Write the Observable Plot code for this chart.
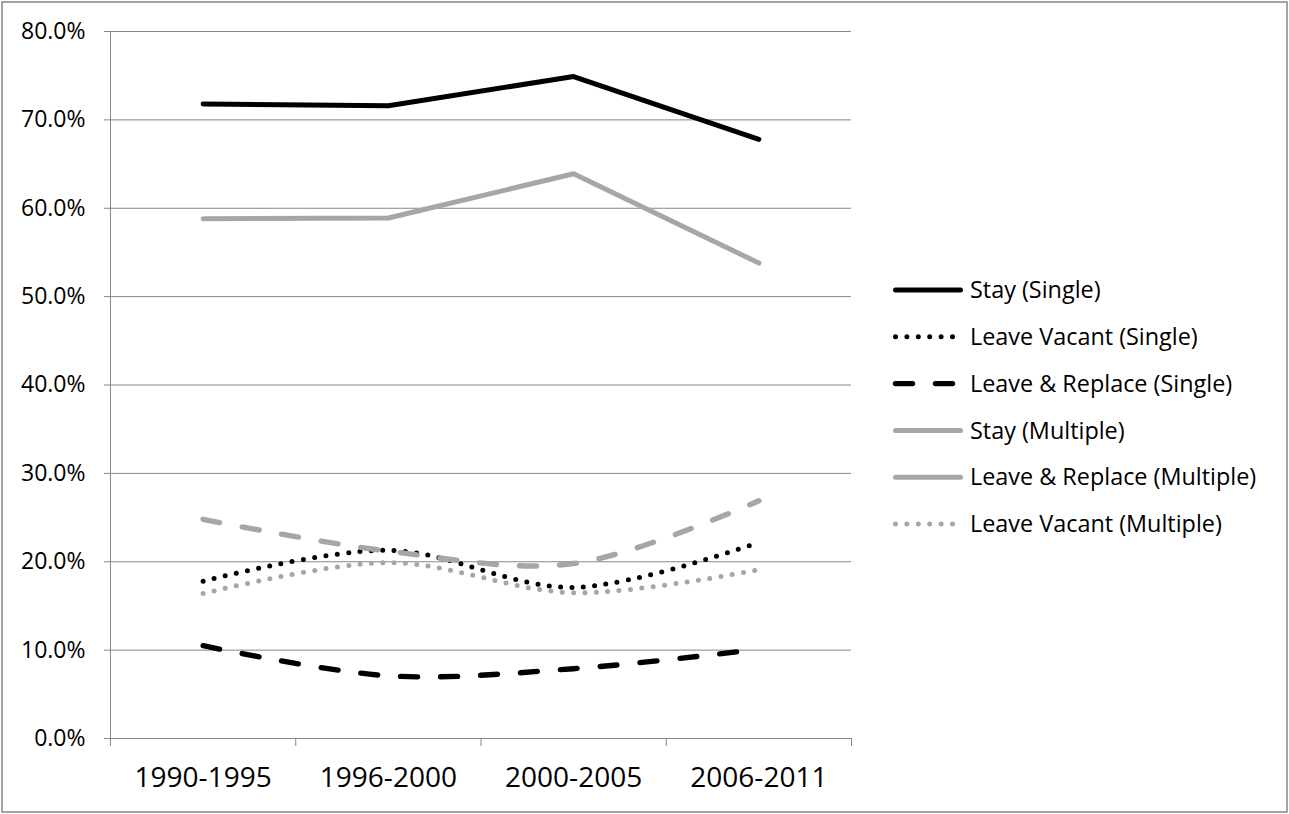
<!DOCTYPE html>
<html><head><meta charset="utf-8">
<script src="https://cdn.jsdelivr.net/npm/d3@7"></script>
<script src="https://cdn.jsdelivr.net/npm/@observablehq/plot@0.6"></script>
<style>
html,body{margin:0;padding:0;background:#fff;}
#chart{position:relative;width:1289px;height:814px;}
#chart svg [aria-label^="y-axis"] text{fill:#000;font-size:23px;}
</style></head><body><div id="chart"></div>
<script>
// ---- data ----
const periods = ["1990-1995", "1996-2000", "2000-2005", "2006-2011"];
const staySingle = [71.8, 71.6, 74.9, 67.8];
const vacantSingle = [17.8, 21.3, 17.1, 22.2];
const replaceSingle = [10.5, 7.1, 7.9, 10.1];
const stayMultiple = [58.8, 58.9, 63.9, 53.8];
const replaceMultiple = [24.8, 21.2, 19.8, 26.9];
const vacantMultiple = [16.4, 19.9, 16.5, 19.1];
const seriesNames = ["Stay (Single)", "Leave Vacant (Single)", "Leave & Replace (Single)",
  "Stay (Multiple)", "Leave & Replace (Multiple)", "Leave Vacant (Multiple)"];
const seriesValues = [staySingle, vacantSingle, replaceSingle, stayMultiple, replaceMultiple, vacantMultiple];
const yTicks = [0, 10, 20, 30, 40, 50, 60, 70, 80];
const xBounds = [-0.5, 0.5, 1.5, 2.5, 3.5];

// ---- styles ----
const BLACK = "#000000", GRAY = "#a6a6a6";
const solid = {strokeWidth: 5};
const dotted = {strokeWidth: 5, strokeDasharray: "0,11.4"};
const dashed = {strokeWidth: 5.4, strokeDasharray: "17,23"};
const lineStyles = [
  {stroke: BLACK, ...solid, curve: "linear"},
  {stroke: BLACK, ...dotted, curve: "catmull-rom"},
  {stroke: BLACK, ...dashed, curve: "catmull-rom"},
  {stroke: GRAY, ...solid, curve: "linear"},
  {stroke: GRAY, ...dashed, curve: "catmull-rom"},
  {stroke: GRAY, ...dotted, curve: "catmull-rom"}
];
// legend swatches (as in the reference, the "Leave & Replace (Multiple)" swatch is solid)
const legendStyles = [
  {stroke: BLACK, ...solid},
  {stroke: BLACK, ...dotted},
  {stroke: BLACK, ...dashed},
  {stroke: GRAY, ...solid},
  {stroke: GRAY, ...solid},
  {stroke: GRAY, ...dotted}
];

const rows = seriesNames.map((name, s) =>
  seriesValues[s].map((v, i) => ({series: name, i, period: periods[i], value: v})));

const chart = Plot.plot({
  width: 1289, height: 814,
  marginLeft: 110, marginRight: 438, marginTop: 31, marginBottom: 76,
  style: {fontFamily: "'Open Sans', sans-serif", color: "#868686", background: "#fff", overflow: "visible"},
  x: {domain: [-0.5, 3.5], ticks: xBounds, tickFormat: () => "", tickSize: 8, label: null},
  y: {domain: [0, 80], ticks: yTicks, tickFormat: d => d.toFixed(1) + "%", tickSize: 6, tickPadding: 19, label: null},
  marks: [
    Plot.ruleY(yTicks, {stroke: "#868686", strokeWidth: 1}),
    Plot.ruleX([-0.5], {stroke: "#868686", strokeWidth: 1}),
    Plot.text(periods, {x: (d, i) => i, y: () => 0, text: d => d, dy: 40, fontSize: 28, fill: "#000"}),
    ...rows.map((data, s) => Plot.line(data, {
      x: "i", y: "value", ...lineStyles[s], strokeLinecap: "round", strokeLinejoin: "round"
    }))
  ]
});

const svg = d3.select(chart);
// legend
const lg = svg.append("g").attr("aria-label", "legend").attr("text-anchor", "start");
seriesNames.forEach((name, i) => {
  const y = 290 + i * 46.8;
  const st = legendStyles[i];
  lg.append("line")
    .attr("x1", 895.5).attr("x2", 960.5).attr("y1", y).attr("y2", y)
    .attr("stroke", st.stroke).attr("stroke-width", st.strokeWidth)
    .attr("stroke-dasharray", st.strokeDasharray || null)
    .attr("stroke-linecap", "round");
  lg.append("text")
    .attr("x", 970).attr("y", y).attr("dy", "0.35em")
    .attr("text-anchor", "start")
    .attr("font-size", 23.4).attr("fill", "#000")
    .attr("font-family", "'Open Sans', sans-serif")
    .text(name);
});
// outer chart border
svg.append("rect").attr("x", 2).attr("y", 2).attr("width", 1285).attr("height", 810)
  .attr("fill", "none").attr("stroke", "#868686").attr("stroke-width", 1.5);

document.getElementById("chart").appendChild(chart);
</script></body></html>
